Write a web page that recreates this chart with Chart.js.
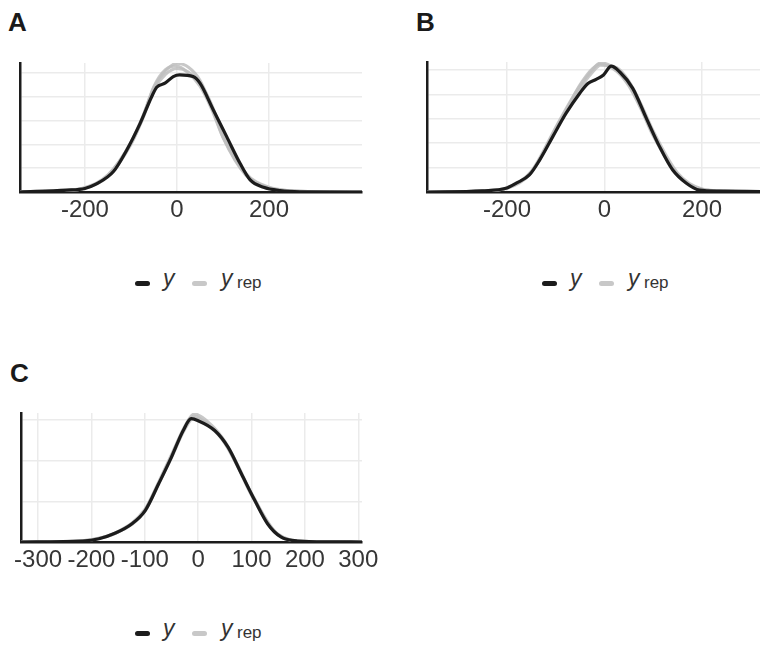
<!DOCTYPE html>
<html>
<head>
<meta charset="utf-8">
<script src="https://cdn.jsdelivr.net/npm/chart.js@4/dist/chart.umd.min.js"></script>
<style>
  html, body { margin:0; padding:0; background:#fff; }
  body { width:760px; height:645px; position:relative; overflow:hidden; font-family:"Liberation Sans", Arial, sans-serif; }
  canvas { position:absolute; }
  .plab { position:absolute; font-weight:bold; font-size:26px; line-height:26px; color:#1a1a1a; }
  .dash { position:absolute; width:15px; height:5px; border-radius:2.5px; }
  .lt { position:absolute; white-space:nowrap; color:#333; }
</style>
</head>
<body>
<div class="plab" style="left:8px;top:9px;">A</div>
<div class="plab" style="left:416px;top:9px;">B</div>
<div class="plab" style="left:10px;top:360px;">C</div>

<canvas id="cA" width="380" height="230" style="left:0;top:0;width:380px;height:230px"></canvas>
<canvas id="cB" width="353" height="230" style="left:407px;top:0;width:353px;height:230px"></canvas>
<canvas id="cC" width="390" height="230" style="left:0;top:350px;width:390px;height:230px"></canvas>

<div id="legends"></div>

<script>
// ---------- DATA ----------
const legendLabels = ["y", "rep"];

// Panel A
const A_xTicks = [-200, 0, 200];
const A_yGrid = [1, 2, 3, 4, 5];
const A_yX = [-341,-240,-200,-175,-138,-109,-80,-55,-44,-26,-8,6,35,50,79,108,137,159,188,224,267,402];
const A_y  = [0,0.08,0.15,0.34,0.86,1.77,2.89,4.01,4.41,4.58,4.86,4.93,4.86,4.58,3.45,2.33,1.21,0.51,0.2,0.06,0.01,0];
const A_repX = [-341,-250,-200,-150,-100,-75,-50,-25,0,25,50,75,100,150,200,250,300,402];
const A_rep1 = [0,0.05,0.17,0.7,2.1,3.15,4.4,5.1,5.42,5.25,4.7,3.6,2.3,0.7,0.16,0.04,0.01,0];
const A_rep2 = [0,0.06,0.19,0.72,2.05,3.05,4.3,4.95,5.2,5.05,4.6,3.7,2.45,0.78,0.2,0.05,0.01,0];
const A_rep3 = [0,0.05,0.16,0.66,2.0,3.1,4.45,5.15,5.3,5.0,4.45,3.5,2.3,0.74,0.18,0.05,0.01,0];

// Panel B
const B_xTicks = [-200, 0, 200];
const B_yGrid = [1, 2, 3, 4, 5];
const B_yX = [-365,-250,-202,-181,-154,-133,-106,-79,-51,-34,-17,-2,14,31,58,86,113,140,168,195,236,319];
const B_y  = [0,0.05,0.15,0.36,0.7,1.31,2.27,3.22,4.04,4.45,4.62,4.8,5.16,4.93,4.25,3.02,1.86,0.9,0.36,0.08,0.04,0.02];
const B_repX = [-365,-250,-200,-150,-100,-75,-50,-25,-8,25,50,75,100,150,200,250,319];
const B_rep1 = [0,0.04,0.16,0.85,2.65,3.55,4.35,5.0,5.3,5.0,4.4,3.45,2.35,0.7,0.1,0.03,0.01];
const B_rep2 = [0,0.05,0.18,0.82,2.55,3.45,4.25,4.9,5.2,5.1,4.55,3.6,2.5,0.78,0.13,0.04,0.01];
const B_rep3 = [0,0.04,0.15,0.8,2.6,3.5,4.4,5.05,5.25,4.95,4.35,3.4,2.3,0.72,0.11,0.03,0.01];

// Panel C
const C_xTicks = [-300, -200, -100, 0, 100, 200, 300];
const C_yGrid = [2, 4, 6];
const C_yX = [-332,-217,-186,-155,-124,-99,-74,-50,-28,-13,0,31,56,81,106,130,155,186,248,307];
const C_y  = [0,0.05,0.16,0.44,0.9,1.56,2.87,4.18,5.49,6.07,5.97,5.49,4.67,3.36,2.05,0.9,0.25,0.05,0.01,0];
const C_repX = [-332,-250,-200,-150,-100,-75,-50,-25,-8,25,50,75,100,150,200,250,307];
const C_rep1 = [0,0.02,0.12,0.52,1.6,2.9,4.3,5.7,6.3,5.75,4.95,3.75,2.35,0.38,0.04,0.01,0];
const C_rep2 = [0,0.02,0.1,0.48,1.5,2.8,4.15,5.55,6.1,5.65,4.85,3.65,2.3,0.33,0.03,0.01,0];
const C_rep3 = [0,0.02,0.11,0.5,1.55,2.85,4.25,5.65,6.2,5.6,4.9,3.7,2.4,0.36,0.04,0.01,0];

// ---------- STYLE ----------
const BLACK = '#1c1c1c';
const GREY = 'rgba(190,190,190,0.85)';
const GRID = '#ebebeb';
const TICKFONT = { family: '"Liberation Sans", Arial, sans-serif', size: 24 };

function pts(xs, ys) { return xs.map((x, i) => ({ x: x, y: ys[i] })); }

function makeChart(id, cfg) {
  const datasets = [
    { label: 'y', data: pts(cfg.yX, cfg.y), borderColor: BLACK, borderWidth: 3.2, order: 0 },
  ];
  cfg.reps.forEach((r, i) => datasets.push({ label: 'y_rep', data: pts(cfg.repX, r), borderColor: GREY, borderWidth: 3, order: 1 + i }));
  return new Chart(document.getElementById(id), {
    type: 'line',
    data: { datasets },
    options: {
      responsive: false,
      animation: false,
      events: [],
      layout: { padding: cfg.padding },
      plugins: { legend: { display: false }, tooltip: { enabled: false } },
      elements: {
        point: { radius: 0 },
        line: { cubicInterpolationMode: 'monotone', borderCapStyle: 'round', borderJoinStyle: 'round', fill: false }
      },
      scales: {
        x: {
          type: 'linear', min: cfg.xmin, max: cfg.xmax,
          afterBuildTicks: s => { s.ticks = cfg.xTicks.map(v => ({ value: v })); },
          afterFit: s => { s.height = 38; },
          grid: { color: GRID, lineWidth: 1.5, drawTicks: false },
          border: { color: BLACK, width: 2.5 },
          ticks: { font: TICKFONT, color: '#363636', padding: 4, maxRotation: 0, autoSkip: false, callback: v => String(v) }
        },
        y: {
          type: 'linear', min: 0, max: cfg.ymax,
          afterBuildTicks: s => { s.ticks = cfg.yGrid.map(v => ({ value: v })); },
          afterFit: s => { s.width = 0; },
          grid: { color: GRID, lineWidth: 1.5, drawTicks: false },
          border: { color: BLACK, width: 2.5 },
          ticks: { display: false }
        }
      }
    }
  });
}

makeChart('cA', { yX: A_yX, y: A_y, repX: A_repX, reps: [A_rep1, A_rep2, A_rep3], xmin: -341, xmax: 402, ymax: 5.43,
  xTicks: A_xTicks, yGrid: A_yGrid, padding: { left: 20, right: 18, top: 63, bottom: 0 } });
makeChart('cB', { yX: B_yX, y: B_y, repX: B_repX, reps: [B_rep1, B_rep2, B_rep3], xmin: -364, xmax: 319, ymax: 5.33,
  xTicks: B_xTicks, yGrid: B_yGrid, padding: { left: 20, right: 0, top: 62, bottom: 0 } });
makeChart('cC', { yX: C_yX, y: C_y, repX: C_repX, reps: [C_rep1, C_rep2, C_rep3], xmin: -332, xmax: 307, ymax: 6.35,
  xTicks: C_xTicks, yGrid: C_yGrid, padding: { left: 21, right: 28, top: 63, bottom: 0 } });

// ---------- LEGENDS (HTML text) ----------
function legend(x0, yc) {
  const host = document.getElementById('legends');
  host.insertAdjacentHTML('beforeend',
    `<div class="dash" style="left:${x0}px;top:${yc - 2}px;background:${BLACK}"></div>` +
    `<div class="lt" style="left:${x0 + 28}px;top:${yc - 16}px;font-size:23px;line-height:23px;font-style:italic">${legendLabels[0]}</div>` +
    `<div class="dash" style="left:${x0 + 57}px;top:${yc - 2}px;background:#c8c8c8"></div>` +
    `<div class="lt" style="left:${x0 + 86}px;top:${yc - 16}px;font-size:23px;line-height:23px;font-style:italic">${legendLabels[0]}</div>` +
    `<div class="lt" style="left:${x0 + 102}px;top:${yc - 9}px;font-size:17px;line-height:17px">${legendLabels[1]}</div>`);
}
legend(135, 283);
legend(542, 283);
legend(135, 633);
</script>
</body>
</html>
